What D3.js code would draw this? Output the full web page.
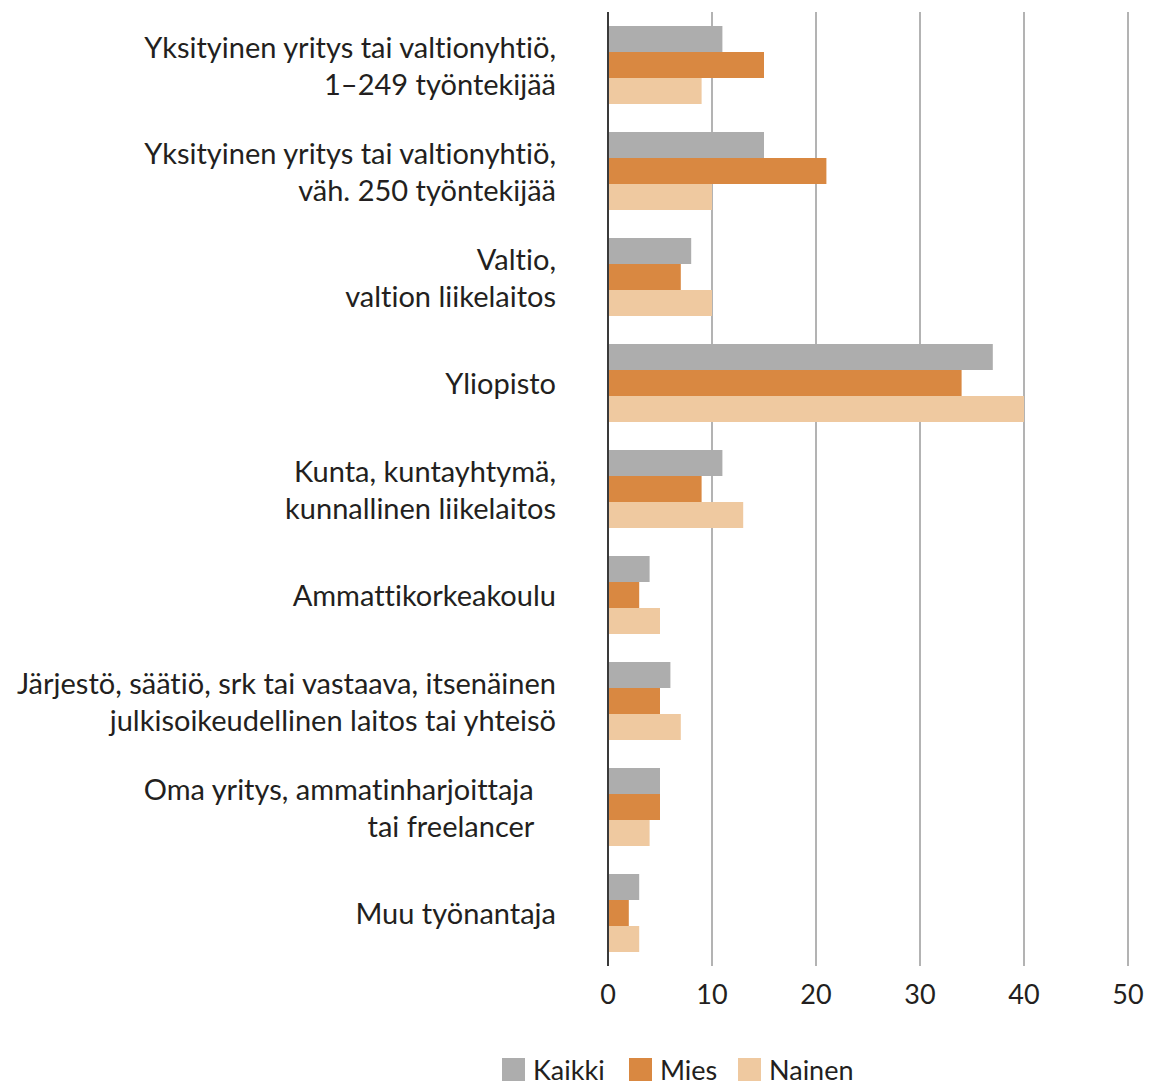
<!DOCTYPE html>
<html>
<head>
<meta charset="utf-8">
<script src="https://cdn.jsdelivr.net/npm/d3@7"></script>
<style>
  body { margin: 0; background: #fff; }
  svg text { font-family: Lato, "Open Sans", sans-serif; fill: #231f20; font-variant-ligatures: none; }
</style>
</head>
<body>
<div id="canvas"></div>
<script>
var categories = [
  ["Yksityinen yritys tai valtionyhtiö,", "1–249 työntekijää"],
  ["Yksityinen yritys tai valtionyhtiö,", "väh. 250 työntekijää"],
  ["Valtio,", "valtion liikelaitos"],
  ["Yliopisto"],
  ["Kunta, kuntayhtymä,", "kunnallinen liikelaitos"],
  ["Ammattikorkeakoulu"],
  ["Järjestö, säätiö, srk tai vastaava, itsenäinen", "julkisoikeudellinen laitos tai yhteisö"],
  ["Oma yritys, ammatinharjoittaja\u00a0\u00a0\u00a0", "tai freelancer\u00a0\u00a0\u00a0"],
  ["Muu työnantaja"]
];
var seriesNames = ["Kaikki", "Mies", "Nainen"];
var kaikki = [11, 15, 8, 37, 11, 4, 6, 5, 3];
var mies   = [15, 21, 7, 34, 9, 3, 5, 5, 2];
var nainen = [9, 10, 10, 40, 13, 5, 7, 4, 3];
var xTicks = [0, 10, 20, 30, 40, 50];
var colors = ["#adadad", "#d98841", "#efc9a0"];

var width = 1151, height = 1086;
var plotLeft = 608, plotRight = 1128, plotTop = 12, plotBottom = 966;

var svg = d3.select("#canvas").append("svg")
  .attr("width", width)
  .attr("height", height);

var x = d3.scaleLinear().domain([0, 50]).range([plotLeft, plotRight]);
var y = d3.scaleBand().domain(d3.range(categories.length)).range([plotTop, plotBottom])
  .paddingInner(28 / 106).paddingOuter(14 / 106);
var ySub = d3.scaleBand().domain(d3.range(3)).range([0, y.bandwidth()]);

var values = [kaikki, mies, nainen];

// grid lines
svg.append("g").selectAll("line")
  .data(xTicks.slice(1))
  .enter().append("line")
  .attr("x1", function(d) { return x(d); })
  .attr("x2", function(d) { return x(d); })
  .attr("y1", plotTop)
  .attr("y2", plotBottom)
  .attr("stroke", "#b3b3b3")
  .attr("stroke-width", 2);

// bars
var groups = svg.append("g").selectAll("g")
  .data(categories)
  .enter().append("g")
  .attr("transform", function(d, i) { return "translate(0," + y(i) + ")"; });

groups.selectAll("rect")
  .data(function(d, i) { return values.map(function(s, j) { return { s: j, v: s[i] }; }); })
  .enter().append("rect")
  .attr("x", x(0))
  .attr("y", function(d) { return ySub(d.s); })
  .attr("width", function(d) { return x(d.v) - x(0); })
  .attr("height", ySub.bandwidth())
  .attr("fill", function(d) { return colors[d.s]; });

// axis line
svg.append("line")
  .attr("x1", x(0)).attr("x2", x(0))
  .attr("y1", plotTop).attr("y2", plotBottom)
  .attr("stroke", "#3a3a3a")
  .attr("stroke-width", 2);

// category labels
var lineH = 37;
groups.append("text")
  .attr("text-anchor", "end")
  .attr("font-size", 29)
  .style("white-space", "pre")
  .each(function(d) {
    var t = d3.select(this);
    var n = d.length;
    d.forEach(function(line, k) {
      t.append("tspan")
        .attr("x", 556)
        .attr("y", y.bandwidth() / 2 + (k - (n - 1) / 2) * lineH + 11)
        .text(line);
    });
  });

// x tick labels
svg.append("g").selectAll("text")
  .data(xTicks)
  .enter().append("text")
  .attr("x", function(d) { return x(d); })
  .attr("y", 1004)
  .attr("text-anchor", "middle")
  .attr("font-size", 27)
  .text(function(d) { return d; });

// legend
var legendX = [502, 629, 738];
var legend = svg.append("g").selectAll("g")
  .data(seriesNames)
  .enter().append("g")
  .attr("transform", function(d, i) { return "translate(" + legendX[i] + ",1058)"; });
legend.append("rect")
  .attr("width", 23).attr("height", 23)
  .attr("fill", function(d, i) { return colors[i]; });
legend.append("text")
  .attr("x", 31)
  .attr("y", 22)
  .attr("font-size", 27)
  .text(function(d) { return d; });
</script>
</body>
</html>
